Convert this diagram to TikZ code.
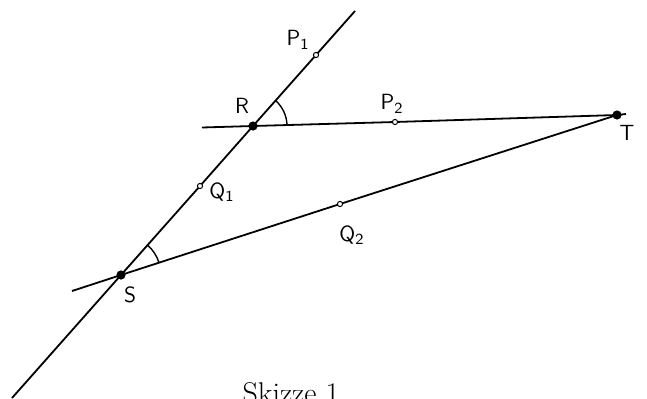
\documentclass[tikz,border=0pt]{standalone}
\usepackage{tikz}
\usetikzlibrary{positioning}

\begin{document}
\begin{tikzpicture}[x=0.5pt, y=0.5pt,
        line/.style={line width=0.9pt},
        anglearc/.style={line width=0.7pt},
        bigdot/.style={circle, fill=black, inner sep=0pt, minimum size=4.6pt},
        smalldot/.style={circle, draw=black, fill=white, line width=0.5pt, inner sep=0pt, minimum size=2.6pt},
        lbl/.style={font=\fontsize{11}{13}\sffamily, inner sep=0pt}
    ]
        \useasboundingbox (0,0) rectangle (647,398);

        % Points
        \coordinate (R) at (253,272);
        \coordinate (S) at (121,123);
        \coordinate (T) at (617,283);
        \coordinate (P1) at (316,343);
        \coordinate (P2) at (395,276);
        \coordinate (Q1) at (200,212);
        \coordinate (Q2) at (340,194);

        % Line ends
        \coordinate (rsbot) at (12,0);
        \coordinate (rstop) at (355,387);
        \coordinate (rtleft) at (202,270.5);
        \coordinate (rtright) at (626,284);
        \coordinate (stleft) at (72,107);

        % Lines
        \draw[line] (rsbot) -- (S) -- (Q1) -- (R) -- (P1) -- (rstop);
        \draw[line] (rtleft) -- (R) -- (P2) -- (T) -- (rtright);
        \draw[line] (stleft) -- (S) -- (Q2) -- (T);

        % Angles
        \draw[anglearc] (R) ++(1.7:17pt) arc[start angle=1.7, end angle=48.5, radius=17pt];
        \draw[anglearc] (S) ++(17.9:20pt) arc[start angle=17.9, end angle=48.5, radius=20pt];

        % Dots
        \node[bigdot] (dotR) at (R) {};
        \node[bigdot] (dotS) at (S) {};
        \node[bigdot] (dotT) at (T) {};
        \node[smalldot] (dotP1) at (P1) {};
        \node[smalldot] (dotP2) at (P2) {};
        \node[smalldot] (dotQ1) at (Q1) {};
        \node[smalldot] (dotQ2) at (Q2) {};

        % Labels
        \node[lbl] (labR) at (242,292) {R};
        \node[lbl] (labS) at (130,103) {S};
        \node[lbl] (labT) at (627,265) {T};
        \node[lbl] (labP1) at (298,358) {P\textsubscript{1}};
        \node[lbl] (labP2) at (392,294) {P\textsubscript{2}};
        \node[lbl] (labQ1) at (222,206) {Q\textsubscript{1}};
        \node[lbl] (labQ2) at (352,163) {Q\textsubscript{2}};

        % Caption
        \node[font=\fontsize{15}{18}\selectfont, anchor=base] (caption) at (291,-5.5) {Skizze 1};
    \end{tikzpicture}
\end{document}
